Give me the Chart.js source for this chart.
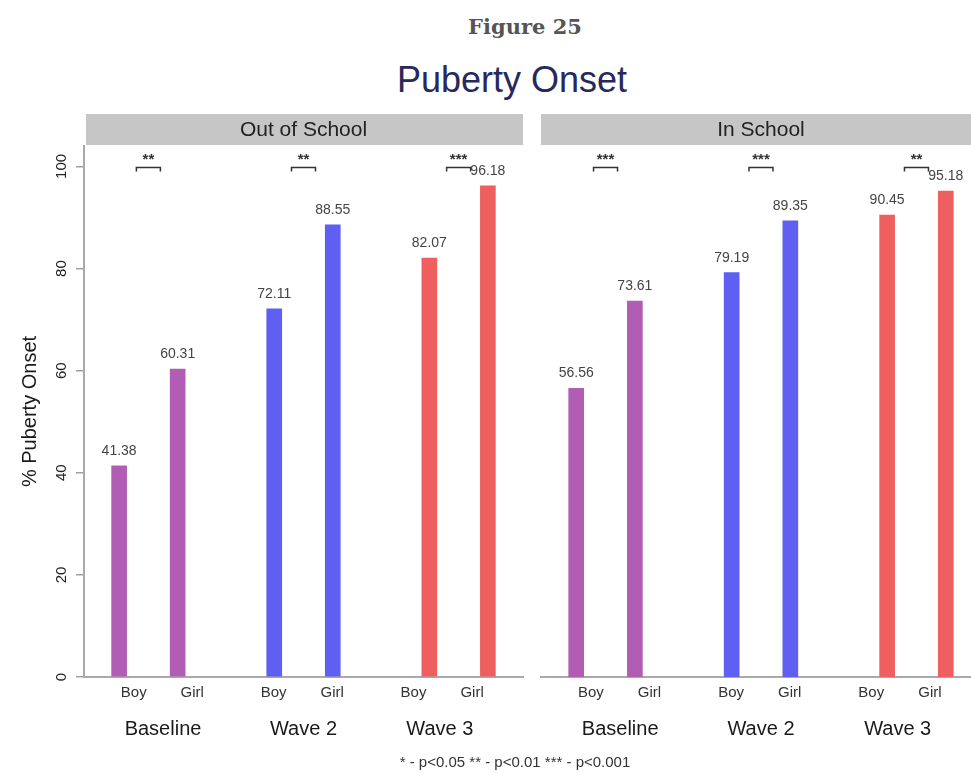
<!DOCTYPE html>
<html lang="en">
<head>
<meta charset="UTF-8">
<title>Puberty Onset</title>
<script src="https://cdn.jsdelivr.net/npm/chart.js@4.4.1/dist/chart.umd.min.js"></script>
<style>
  body { margin: 0; background: #fff; }
  #page { position: relative; width: 971px; height: 773px; overflow: hidden; font-family: "Liberation Sans", Arial, sans-serif; }
  #fig { position: absolute; top: 14px; left: 0; width: 1050px; text-align: center; font: bold 21px "DejaVu Serif", serif; color: #555; line-height: 26px; }
  #title { position: absolute; top: 59px; left: 0; width: 1024px; text-align: center; font-size: 36px; line-height: 42px; color: #27285c; }
  #note { position: absolute; top: 754px; left: 0; width: 1030px; text-align: center; font-size: 15px; line-height: 16px; color: #333; }
  canvas { position: absolute; top: 100px; }
  #left { left: 0; }
  #right { left: 531px; }
</style>
</head>
<body>
<div id="page">
  <div id="fig">Figure 25</div>
  <div id="title">Puberty Onset</div>
  <canvas id="left" width="533" height="673"></canvas>
  <canvas id="right" width="460" height="673"></canvas>
  <div id="note">* - p&lt;0.05 ** - p&lt;0.01 *** - p&lt;0.001</div>
</div>
<script>
  // data
  const panels = ['Out of School', 'In School'];
  const waves = ['Baseline', 'Wave 2', 'Wave 3'];
  const sexes = ['Boy', 'Girl'];
  const outBoy = [41.38, 72.11, 82.07];
  const outGirl = [60.31, 88.55, 96.18];
  const inBoy = [56.56, 79.19, 90.45];
  const inGirl = [73.61, 89.35, 95.18];
  const outSig = ['**', '**', '***'];
  const inSig = ['***', '***', '**'];
  const yTicks = [0, 20, 40, 60, 80, 100];

  const waveColors = ['#b15db4', '#5f5ff2', '#ef5f5f'];
  // x layout (in bar-spacing units); labels are spaced on their own grid
  const groupStart = [0.6, 3.25, 5.9];
  const sexLabelStart = [0.85, 3.24, 5.63];
  const groupLabelPos = [1.35, 3.75, 6.08];
  const FONT = '"Liberation Sans", Arial, sans-serif';

  const facetPlugin = {
    id: 'facet',
    beforeDraw(chart, args, opts) {
      const ctx = chart.ctx, a = chart.chartArea;
      ctx.save();
      ctx.fillStyle = '#c6c6c6';
      ctx.fillRect(a.left + opts.inset, 14, a.right - a.left - opts.inset, 31);
      ctx.fillStyle = '#222';
      ctx.font = '21px ' + FONT;
      ctx.textAlign = 'center';
      ctx.textBaseline = 'middle';
      ctx.fillText(opts.label, (a.left + a.right) / 2, 30);
      ctx.restore();
    },
    afterDatasetsDraw(chart, args, opts) {
      const ctx = chart.ctx;
      const bars = chart.getDatasetMeta(0).data;
      const vals = chart.data.datasets[0].data;
      ctx.save();
      ctx.textAlign = 'center';
      ctx.textBaseline = 'middle';
      ctx.fillStyle = '#444';
      ctx.font = '14px ' + FONT;
      bars.forEach((b, i) => ctx.fillText(vals[i].y.toFixed(2), b.x, b.y - 15));
      // significance brackets
      const by = chart.scales.y.getPixelForValue(100) + 1;
      ctx.strokeStyle = '#333';
      ctx.lineWidth = 1.5;
      ctx.font = 'bold 15px ' + FONT;
      ctx.fillStyle = '#333';
      opts.sig.forEach((s, g) => {
        const mx = (bars[2 * g].x + bars[2 * g + 1].x) / 2;
        ctx.beginPath();
        ctx.moveTo(mx - 12, by + 4);
        ctx.lineTo(mx - 12, by);
        ctx.lineTo(mx + 12, by);
        ctx.lineTo(mx + 12, by + 4);
        ctx.stroke();
        ctx.fillText(s, mx, by - 8);
      });
      ctx.restore();
    }
  };

  function makeChart(id, label, boy, girl, sig, showY, padLeft, padRight) {
    const points = [], colors = [], sexTicks = [];
    waves.forEach((w, g) => {
      points.push({ x: groupStart[g], y: boy[g] });
      points.push({ x: groupStart[g] + 1, y: girl[g] });
      colors.push(waveColors[g], waveColors[g]);
      sexTicks.push(sexLabelStart[g], sexLabelStart[g] + 1);
    });
    return new Chart(document.getElementById(id), {
      type: 'bar',
      data: {
        datasets: [{
          data: points,
          backgroundColor: colors,
          barThickness: 15
        }]
      },
      options: {
        responsive: false,
        animation: false,
        layout: { padding: { top: 46, bottom: 20, left: padLeft, right: padRight } },
        plugins: {
          legend: { display: false },
          tooltip: { enabled: false },
          facet: { label: label, sig: sig, inset: showY ? 2 : 0 }
        },
        scales: {
          x: {
            type: 'linear',
            offset: false,
            min: 0,
            max: 7.5,
            weight: 0,
            afterBuildTicks: s => { s.ticks = sexTicks.map(v => ({ value: v })); },
            afterFit: s => { s.height = 32; },
            grid: { display: false, drawTicks: false },
            border: { display: true, color: '#a9a9a9', width: 2 },
            ticks: {
              autoSkip: false, maxRotation: 0, padding: 7,
              color: '#333', font: { family: FONT, size: 15 },
              callback: (v, i) => sexes[i % 2]
            }
          },
          xg: {
            type: 'linear',
            position: 'bottom',
            offset: false,
            min: 0,
            max: 7.5,
            weight: 1,
            afterBuildTicks: s => { s.ticks = groupLabelPos.map(v => ({ value: v })); },
            afterFit: s => { s.height = 44; },
            grid: { display: false, drawTicks: false },
            border: { display: false },
            ticks: {
              autoSkip: false, maxRotation: 0, padding: 8,
              color: '#1a1a1a', font: { family: FONT, size: 20 },
              callback: (v, i) => waves[i]
            }
          },
          y: {
            display: showY,
            min: 0,
            max: 104,
            afterBuildTicks: s => { s.ticks = yTicks.map(v => ({ value: v })); },
            afterFit: s => { s.width = showY ? 84 : 0; },
            grid: { display: true, drawOnChartArea: false, drawTicks: true, tickLength: 8, color: '#a0a0a0', lineWidth: 1.5 },
            border: { display: true, color: '#a9a9a9', width: 2 },
            ticks: {
              minRotation: 90, maxRotation: 90, crossAlign: 'center', padding: 2,
              color: '#222', font: { family: FONT, size: 15 }
            },
            title: {
              display: true, text: '% Puberty Onset',
              color: '#1a1a1a', font: { family: FONT, size: 20 },
              padding: { top: 18, bottom: 0 }
            }
          }
        }
      },
      plugins: [facetPlugin]
    });
  }

  makeChart('left', panels[0], outBoy, outGirl, outSig, true, 0, 10);
  makeChart('right', panels[1], inBoy, inGirl, inSig, false, 10, 10);
</script>
</body>
</html>
